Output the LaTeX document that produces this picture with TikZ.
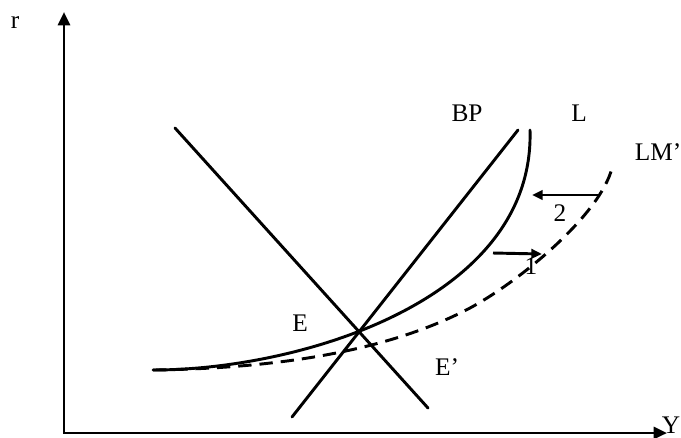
\documentclass[tikz,border=0pt]{standalone}
\usepackage{fontspec}
\setmainfont{Liberation Serif}
\usetikzlibrary{arrows.meta}
\begin{document}
\begin{tikzpicture}[x=0.75pt,y=-0.75pt,
  curve/.style={line width=2.2pt, line cap=round},
  dashcurve/.style={line width=2.2pt, dash pattern=on 10pt off 6pt},
  lbl/.style={font=\fontsize{19}{22}\selectfont, inner sep=0pt},
  axisline/.style={line width=2.1pt, line join=miter, {Triangle[length=10pt,width=9pt]}-{Triangle[length=10pt,width=9pt]}},
  shiftarrow/.style={line width=2.2pt, -{Triangle[length=8pt,width=7pt]}}]
\useasboundingbox (0,0) rectangle (681,437);
% axes
\coordinate (O) at (64,433);
\coordinate (ytop) at (64,12);
\coordinate (xend) at (667,433);
\draw[axisline] (ytop) -- (O) -- (xend);
% labels
\node[lbl] (r) at (15,23) {r};
\node[lbl] (Ylab) at (671,425) {Y};
\node[lbl] (BPl) at (467,113) {BP};
\node[lbl] (Ll) at (579,113) {L};
\node[lbl] (LMl) at (658,152) {LM’};
\node[lbl] (El) at (300,323) {E};
\node[lbl] (Epl) at (447,367) {E’};
\node[lbl] (two) at (560,213) {2};
\node[lbl] (one) at (531,266) {1};
% IS-type line and BP line
\coordinate (ISa) at (175,128);
\coordinate (ISb) at (428,408);
\coordinate (BPa) at (292,417);
\coordinate (BPb) at (518,130);
\draw[curve] (ISa) -- (ISb);
\draw[curve] (BPa) -- (BPb);
% L curve
\coordinate (La) at (153,370);
\coordinate (Lb) at (530,130);
\draw[curve] (La) .. controls (300,370) and (535,300) .. (Lb);
% LM' dashed curve
\coordinate (Ma) at (153,370);
\coordinate (Mm) at (470,308);
\coordinate (Mb) at (612,168);
\draw[dashcurve] (Ma) .. controls (300,368) and (400,345) .. (Mm)
  .. controls (520,281) and (600,215) .. (Mb);
% shift arrows
\coordinate (a2s) at (600,195);
\coordinate (a2e) at (532,195);
\draw[shiftarrow] (a2s) -- (a2e);
\coordinate (a1s) at (493,253);
\coordinate (a1e) at (542,254);
\draw[shiftarrow] (a1s) -- (a1e);
\end{tikzpicture}
\end{document}
